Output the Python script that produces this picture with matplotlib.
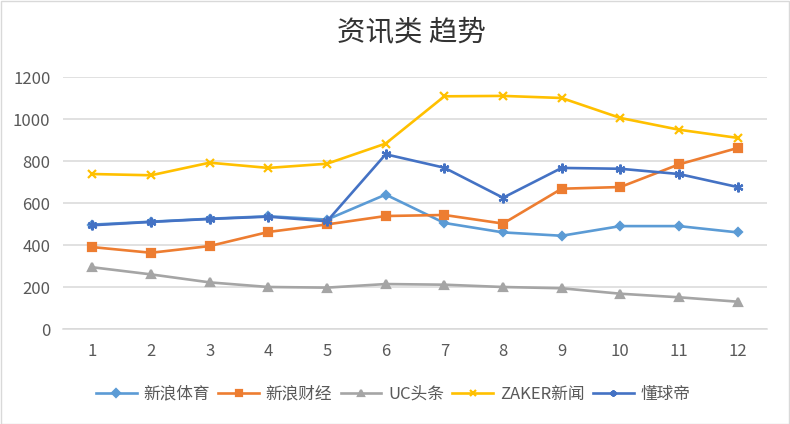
import matplotlib
matplotlib.use("Agg")
import matplotlib.pyplot as plt
from matplotlib.patches import Rectangle

plt.rcParams['font.family'] = ['Noto Sans CJK SC', 'DejaVu Sans']

months = [1, 2, 3, 4, 5, 6, 7, 8, 9, 10, 11, 12]
sina_sports = [497, 511, 525, 537, 521, 640, 505, 460, 444, 490, 490, 460]
sina_finance = [390, 363, 395, 462, 498, 538, 543, 502, 668, 676, 784, 862]
uc_news = [294, 260, 222, 200, 197, 214, 211, 200, 194, 168, 151, 130]
zaker = [738, 732, 792, 767, 787, 883, 1108, 1110, 1100, 1005, 949, 910]
dongqiudi = [494, 510, 524, 535, 513, 832, 768, 625, 767, 763, 738, 676]

series_names = ['新浪体育', '新浪财经', 'UC头条', 'ZAKER新闻', '懂球帝']
series_values = [sina_sports, sina_finance, uc_news, zaker, dongqiudi]
colors = ['#5B9BD5', '#ED7D31', '#A5A5A5', '#FFC000', '#4472C4']
markers = ['D', 's', '^', 'x', (6, 2, 0)]
msizes = [4.5, 6, 6, 6, 7]

fig = plt.figure(figsize=(7.9, 4.24), dpi=100)
ax = fig.add_axes([63/790, (424-329)/424, (767-63)/790, (329-77)/424])

for name, vals, c, m, ms in zip(series_names, series_values, colors, markers, msizes):
    ax.plot(months, vals, color=c, lw=1.9, marker=m, markersize=ms,
            markerfacecolor=c, markeredgecolor=c, markeredgewidth=1.6, label=name, zorder=3)

ax.set_xlim(0.5, 12.5)
ax.set_ylim(0, 1200)
ax.set_yticks(range(0, 1201, 200))
ax.set_xticks(months)
ax.yaxis.grid(True, color='#D9D9D9', lw=1.1, zorder=0)
ax.set_axisbelow(True)
for s in ['top', 'right', 'left']:
    ax.spines[s].set_visible(False)
ax.spines['bottom'].set_color('#D9D9D9')
ax.spines['bottom'].set_linewidth(1.1)
ax.tick_params(axis='both', length=0, labelsize=12, labelcolor='#595959')
ax.tick_params(axis='y', pad=9)
ax.tick_params(axis='x', pad=10)

fig.text(411/790, 1 - 33/424, '资讯类 趋势', ha='center', va='center',
         fontsize=20.5, color='#333333', fontweight='medium')

leg = fig.legend(loc='center', bbox_to_anchor=(393/790, 1 - 394/424), ncol=5,
                 frameon=False, fontsize=12, handlelength=2.45, handletextpad=0.4,
                 columnspacing=0.5, borderpad=0.2, labelcolor='#595959')
for h in leg.legend_handles:
    h.set_markersize(4.5)

fig.patches.append(Rectangle((0.5/790, 0.5/424), 788/790, 422.5/424, transform=fig.transFigure,
                             fill=False, edgecolor='#D9D9D9', lw=1))

fig.savefig('out.png', dpi=100, facecolor='white')
